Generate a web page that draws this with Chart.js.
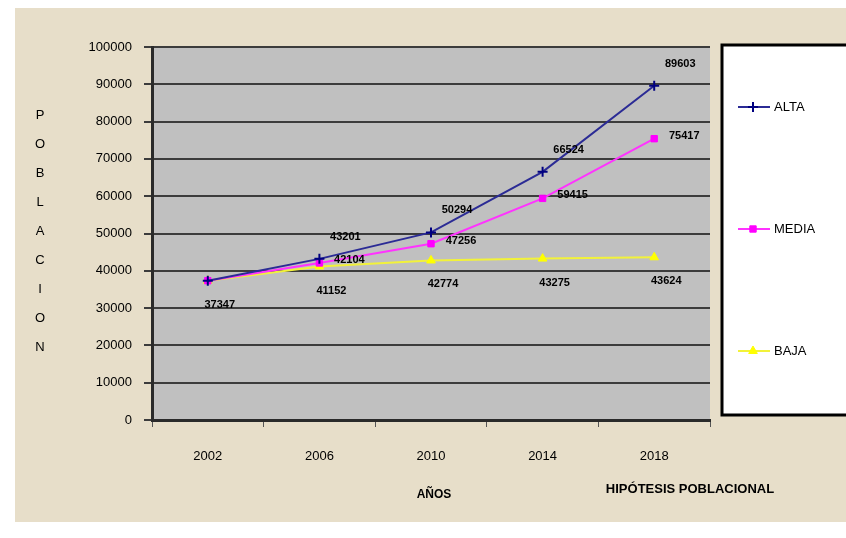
<!DOCTYPE html>
<html>
<head>
<meta charset="utf-8">
<script src="https://cdn.jsdelivr.net/npm/chart.js@4/dist/chart.umd.min.js"></script>
<style>
  html, body { margin: 0; padding: 0; background: #ffffff; }
  #wrap { width: 846px; height: 538px; position: relative; }
</style>
</head>
<body>
<div id="wrap"><canvas id="c" width="846" height="538"></canvas></div>
<script>
// Population projection hypotheses by year
const years = ['2002', '2006', '2010', '2014', '2018'];
const alta  = [37347, 43201, 50294, 66524, 89603];
const media = [37347, 42104, 47256, 59415, 75417];
const baja  = [37347, 41152, 42774, 43275, 43624];
const seriesNames = ['ALTA', 'MEDIA', 'BAJA'];
const yAxisTitle = 'POBLACION';
const xAxisTitle = 'AÑOS';
const legendTitle = 'HIPÓTESIS POBLACIONAL';

const FONT = '"Liberation Sans", Arial, sans-serif';

// Backgrounds: page, beige frame, gray plot area
const backgroundPlugin = {
  id: 'backgrounds',
  beforeDraw(chart) {
    const { ctx, chartArea: a } = chart;
    ctx.save();
    ctx.fillStyle = '#ffffff';
    ctx.fillRect(0, 0, chart.width, chart.height);
    ctx.fillStyle = '#e7dec9';
    ctx.fillRect(15, 8, chart.width - 15, 514);
    ctx.fillStyle = '#c0c0c0';
    ctx.fillRect(a.left, a.top, a.right - a.left, a.bottom - a.top);
    ctx.restore();
  }
};

// Value labels beside each point
const valueLabelPlugin = {
  id: 'valueLabels',
  afterDatasetsDraw(chart, args, opts) {
    const { ctx } = chart;
    ctx.save();
    ctx.font = 'bold 11px ' + FONT;
    ctx.fillStyle = '#000000';
    ctx.textAlign = 'center';
    ctx.textBaseline = 'middle';
    chart.data.datasets.forEach((ds, di) => {
      const off = opts.offsets[di];
      const meta = chart.getDatasetMeta(di);
      meta.data.forEach((pt, i) => {
        if (i === 0 && off.skipFirst) return;
        ctx.fillText(String(ds.data[i]), pt.x + off.dx, pt.y + off.dy);
      });
    });
    ctx.restore();
  }
};

// Axis titles and the boxed legend on the right
const decorPlugin = {
  id: 'decor',
  afterDraw(chart) {
    const { ctx, chartArea: a } = chart;
    ctx.save();
    ctx.fillStyle = '#000000';
    ctx.textAlign = 'center';
    ctx.textBaseline = 'middle';

    // vertical stacked title on the left
    ctx.font = '13px ' + FONT;
    const letters = yAxisTitle.split('');
    const top = 115, step = 29;
    letters.forEach((ch, i) => ctx.fillText(ch, 40, top + i * step));

    // x axis title and legend caption
    ctx.font = 'bold 12px ' + FONT;
    ctx.fillText(xAxisTitle, (a.left + a.right) / 2 + 3, 495);
    ctx.font = 'bold 13px ' + FONT;
    ctx.fillText(legendTitle, 690, 489);

    // legend box
    ctx.fillStyle = '#ffffff';
    ctx.fillRect(722, 45, 140, 370);
    ctx.strokeStyle = '#000000';
    ctx.lineWidth = 3;
    ctx.strokeRect(722, 45, 140, 370);

    const rows = [107, 229, 351];
    chart.data.datasets.forEach((ds, di) => {
      const y = rows[di];
      ctx.strokeStyle = ds.borderColor;
      ctx.lineWidth = 2;
      ctx.beginPath();
      ctx.moveTo(738, y);
      ctx.lineTo(770, y);
      ctx.stroke();
      ctx.fillStyle = ds.pointBackgroundColor;
      ctx.strokeStyle = ds.pointBorderColor;
      ctx.lineWidth = ds.pointBorderWidth;
      Chart.helpers.drawPoint(ctx, {
        pointStyle: ds.pointStyle,
        radius: ds.pointRadius,
        borderWidth: ds.pointBorderWidth,
        rotation: 0
      }, 753, y);
      ctx.fillStyle = '#000000';
      ctx.font = '13px ' + FONT;
      ctx.textAlign = 'left';
      ctx.fillText(ds.label, 774, y);
    });
    ctx.restore();
  }
};

const chart = new Chart(document.getElementById('c'), {
  type: 'line',
  data: {
    labels: years,
    datasets: [
      {
        label: seriesNames[0], data: alta,
        borderColor: '#2b2b95', borderWidth: 2,
        pointStyle: 'cross', pointRadius: 5, pointBorderWidth: 2,
        pointBorderColor: '#000080', pointBackgroundColor: '#000080'
      },
      {
        label: seriesNames[1], data: media,
        borderColor: '#ff33ff', borderWidth: 2,
        pointStyle: 'rect', pointRadius: 4.5, pointBorderWidth: 1,
        pointBorderColor: '#ff00ff', pointBackgroundColor: '#ff00ff'
      },
      {
        label: seriesNames[2], data: baja,
        borderColor: '#f2f23a', borderWidth: 2,
        pointStyle: 'triangle', pointRadius: 5, pointBorderWidth: 1,
        pointBorderColor: '#ffff00', pointBackgroundColor: '#ffff00'
      }
    ]
  },
  options: {
    responsive: false,
    animation: false,
    devicePixelRatio: 1,
    layout: { padding: { left: 0, top: 47, right: 136, bottom: 0 } },
    plugins: {
      legend: { display: false },
      tooltip: { enabled: false },
      valueLabels: {
        offsets: [
          { dx: 26, dy: -22, skipFirst: true },
          { dx: 30, dy: -3, skipFirst: true },
          { dx: 12, dy: 24, skipFirst: false }
        ]
      }
    },
    scales: {
      x: {
        offset: true,
        afterFit(s) { s.height = 118; },
        border: { color: '#2a2a2a', width: 3 },
        grid: { offset: true, drawOnChartArea: false, tickLength: 7, color: '#555555', lineWidth: 1 },
        ticks: { color: '#000000', font: { family: FONT, size: 13 }, padding: 22, maxRotation: 0 }
      },
      y: {
        min: 0, max: 100000,
        afterFit(s) { s.width = 152; },
        border: { color: '#2a2a2a', width: 3 },
        grid: { color: '#3c3c3c', lineWidth: 2, tickLength: 8 },
        ticks: {
          stepSize: 10000, color: '#000000', padding: 12,
          font: { family: FONT, size: 13 },
          callback: (v) => String(v)
        }
      }
    }
  },
  plugins: [backgroundPlugin, valueLabelPlugin, decorPlugin]
});
</script>
</body>
</html>
